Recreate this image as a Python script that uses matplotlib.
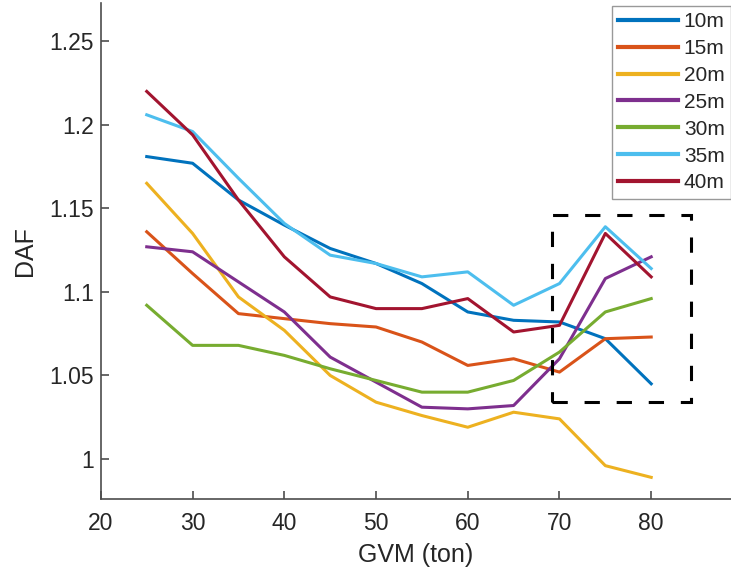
import matplotlib.pyplot as plt
from matplotlib.patches import Rectangle

plt.rcParams['font.family'] = ['Liberation Sans', 'DejaVu Sans']

# GVM values (ton)
gvm = [25, 30, 35, 40, 45, 50, 55, 60, 65, 70, 75, 80]

# DAF per span length
daf_10m = [1.181, 1.177, 1.155, 1.140, 1.126, 1.117, 1.105, 1.088, 1.083, 1.082, 1.072, 1.045]
daf_15m = [1.136, 1.111, 1.087, 1.084, 1.081, 1.079, 1.070, 1.056, 1.060, 1.052, 1.072, 1.073]
daf_20m = [1.165, 1.135, 1.097, 1.077, 1.050, 1.034, 1.026, 1.019, 1.028, 1.024, 0.996, 0.989]
daf_25m = [1.127, 1.124, 1.106, 1.088, 1.061, 1.046, 1.031, 1.030, 1.032, 1.060, 1.108, 1.121]
daf_30m = [1.092, 1.068, 1.068, 1.062, 1.054, 1.047, 1.040, 1.040, 1.047, 1.064, 1.088, 1.096]
daf_35m = [1.206, 1.196, 1.168, 1.141, 1.122, 1.117, 1.109, 1.112, 1.092, 1.105, 1.139, 1.114]
daf_40m = [1.220, 1.194, 1.155, 1.121, 1.097, 1.090, 1.090, 1.096, 1.076, 1.080, 1.135, 1.109]

labels = ['10m', '15m', '20m', '25m', '30m', '35m', '40m']
series = [daf_10m, daf_15m, daf_20m, daf_25m, daf_30m, daf_35m, daf_40m]
colors = ['#0072BD', '#D95319', '#EDB120', '#7E2F8E', '#77AC30', '#4DBEEE', '#A2142F']

fig = plt.figure(figsize=(7.31, 5.73), dpi=100)
ax = fig.add_axes([0.138, 0.129, 0.862, 0.866])

for y, lab, c in zip(series, labels, colors):
    ax.plot(gvm, y, color=c, lw=2.2, label=lab)

# dashed box marking the region of interest
ax.add_patch(Rectangle((69.2, 1.034), 15.1, 0.112, fill=False, edgecolor='black',
                       lw=2.2, linestyle=(0, (5, 5.5)), zorder=5))

ax.set_xlim(20, 88.7)
ax.set_ylim(0.976, 1.273)
ax.set_xticks([20, 30, 40, 50, 60, 70, 80])
ax.set_yticks([1.0, 1.05, 1.1, 1.15, 1.2, 1.25])
ax.set_yticklabels(['1', '1.05', '1.1', '1.15', '1.2', '1.25'])

for s in ['top', 'right']:
    ax.spines[s].set_visible(False)
for s in ['left', 'bottom']:
    ax.spines[s].set_color('#4d4d4d')
    ax.spines[s].set_linewidth(1.2)
ax.tick_params(direction='in', length=6, width=1.2, color='#4d4d4d',
               labelsize=16.5, labelcolor='#262626')
ax.tick_params(axis='x', pad=9)
ax.tick_params(axis='y', pad=5)

ax.set_xlabel('GVM (ton)', fontsize=18, color='#262626', labelpad=6)
ax.set_ylabel('DAF', fontsize=18, color='#262626', labelpad=9)

leg = ax.legend(loc='upper right', bbox_to_anchor=(1.0, 0.99), bbox_transform=fig.transFigure,
                fontsize=15, frameon=True, fancybox=False, handlelength=2.85,
                handletextpad=0.29, labelspacing=0.38, borderpad=0.3, borderaxespad=0)
leg.get_frame().set_edgecolor('#808080')
leg.get_frame().set_linewidth(1.0)
for t in leg.get_texts():
    t.set_color('#262626')
for h in leg.get_lines():
    h.set_linewidth(3)

fig.savefig('out.png', dpi=100)
